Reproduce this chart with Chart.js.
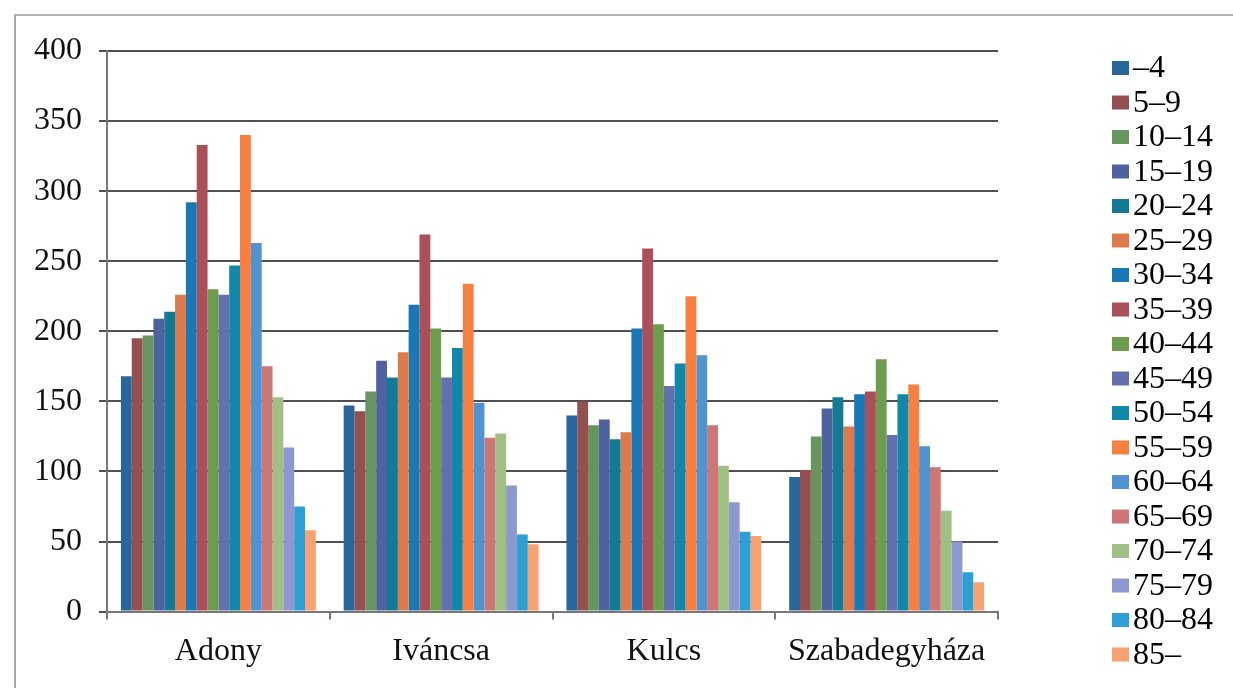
<!DOCTYPE html>
<html>
<head>
<meta charset="utf-8">
<script src="https://cdn.jsdelivr.net/npm/chart.js@4.4.0/dist/chart.umd.min.js"></script>
<style>
  html, body { margin: 0; padding: 0; background: #fff; }
  #wrap { position: relative; width: 1233px; height: 688px; overflow: hidden; }
  #frame { position: absolute; left: 14px; top: 14px; width: 1240px; height: 700px;
           border-left: 2px solid #a8a8a8; border-top: 2px solid #b0b0b0; }
  #chartBox { position: absolute; left: 0; top: 0; width: 1233px; height: 688px; }
</style>
</head>
<body>
<div id="wrap">
  <div id="frame"></div>
  <div id="chartBox"><canvas id="popChart"></canvas></div>
</div>
<script>
// települések
const places = ['Adony', 'Iváncsa', 'Kulcs', 'Szabadegyháza'];

// korcsoportok
const ageGroups = ['–4', '5–9', '10–14', '15–19', '20–24', '25–29', '30–34', '35–39', '40–44',
  '45–49', '50–54', '55–59', '60–64', '65–69', '70–74', '75–79', '80–84', '85–'];

// lakosok száma korcsoportonként (Adony, Iváncsa, Kulcs, Szabadegyháza)
const ageValues = [
  [168, 147, 140, 96],   // –4
  [195, 143, 150, 101],  // 5–9
  [197, 157, 133, 125],  // 10–14
  [209, 179, 137, 145],  // 15–19
  [214, 167, 123, 153],  // 20–24
  [226, 185, 128, 132],  // 25–29
  [292, 219, 202, 155],  // 30–34
  [333, 269, 259, 157],  // 35–39
  [230, 202, 205, 180],  // 40–44
  [226, 167, 161, 126],  // 45–49
  [247, 188, 177, 155],  // 50–54
  [340, 234, 225, 162],  // 55–59
  [263, 149, 183, 118],  // 60–64
  [175, 124, 133, 103],  // 65–69
  [153, 127, 104, 72],   // 70–74
  [117, 90, 78, 50],     // 75–79
  [75, 55, 57, 28],      // 80–84
  [58, 48, 54, 21]       // 85–
];

const barColors = ['#28679a', '#94504f', '#689460', '#4f62a0', '#127a94', '#dc7a4c',
  '#1a79b4', '#ab5058', '#6c9c4e', '#6470ae', '#1188aa', '#f77f42',
  '#4f93d0', '#cc7676', '#a0bf84', '#8e98d0', '#2e9fd2', '#f8a272'];

const yTicks = [0, 50, 100, 150, 200, 250, 300, 350, 400];

const serif = '"Liberation Serif", "DejaVu Serif", serif';

const datasets = ageGroups.map((g, i) => ({
  label: g,
  data: ageValues[i],
  backgroundColor: barColors[i],
  borderWidth: 0,
  categoryPercentage: 0.875,
  barPercentage: 1.0
}));

// jelmagyarázat a vászonra rajzolva, a diagram jobb oldalán
const sideLegend = {
  id: 'sideLegend',
  afterDraw(chart) {
    const c = chart.ctx;
    const left = chart.chartArea.right + 114;
    const top = 68;
    const step = 34.5;
    c.save();
    c.font = '32px ' + serif;
    c.textBaseline = 'middle';
    c.textAlign = 'left';
    chart.data.datasets.forEach((ds, i) => {
      const y = top + i * step;
      c.fillStyle = ds.backgroundColor;
      c.fillRect(left, y - 7, 17, 14);
      c.fillStyle = '#000';
      c.fillText(ds.label, left + 21, y + 1);
    });
    c.restore();
  }
};

const ctx = document.getElementById('popChart').getContext('2d');
const chart = new Chart(ctx, {
  type: 'bar',
  data: { labels: places, datasets: datasets },
  plugins: [sideLegend],
  options: {
    responsive: true,
    maintainAspectRatio: false,
    animation: false,
    layout: { padding: { left: 17, right: 235, top: 51, bottom: 4 } },
    plugins: { legend: { display: false }, tooltip: { enabled: false } },
    scales: {
      x: {
        grid: { display: true, drawOnChartArea: false, offset: true, tickLength: 8, color: '#777', lineWidth: 2 },
        border: { display: true, color: '#777', width: 2 },
        ticks: { color: '#111', padding: 13, font: { family: serif, size: 32 } }
      },
      y: {
        min: 0,
        max: 400,
        afterBuildTicks: axis => { axis.ticks = yTicks.map(v => ({ value: v })); },
        grid: { color: '#505050', lineWidth: 2, tickLength: 8 },
        border: { display: true, color: '#777', width: 2 },
        ticks: { color: '#111', padding: 17, font: { family: serif, size: 32 } }
      }
    }
  }
});
</script>
</body>
</html>
